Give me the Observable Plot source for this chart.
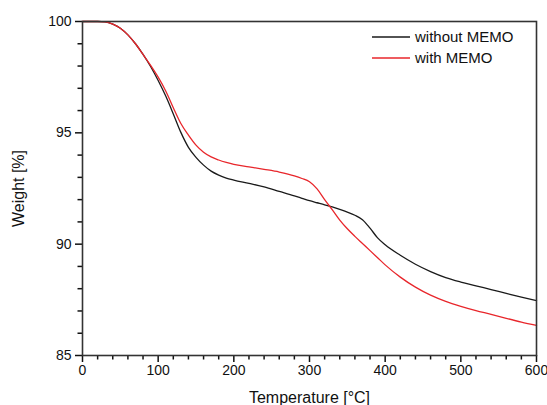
<!DOCTYPE html>
<html>
<head>
<meta charset="utf-8">
<script src="https://cdn.jsdelivr.net/npm/d3@7"></script>
<script src="https://cdn.jsdelivr.net/npm/@observablehq/plot@0.6"></script>
<style>
  html, body { margin: 0; padding: 0; background: #fff; }
  #wrap { position: relative; width: 547px; height: 405px; font-family: "Liberation Sans", Arial, sans-serif; }
  #legend { position: absolute; left: 372px; top: 26px; font-size: 15px; color: #111; }
  #legend .row { display: flex; align-items: center; height: 21px; }
  #legend svg { margin-right: 5px; }
</style>
</head>
<body>
<div id="wrap"></div>
<script>
const temperature = [0, 20, 30, 40, 50, 60, 70, 80, 90, 100, 110, 120, 130, 140, 150, 160, 170, 180, 190, 200,
  220, 240, 260, 280, 290, 300, 310, 320, 330, 340, 350, 360, 370, 380, 390, 400,
  420, 440, 460, 480, 500, 520, 540, 560, 580, 600];
const withoutMemo = [100, 100, 99.98, 99.88, 99.7, 99.4, 99.0, 98.52, 97.98, 97.35, 96.65, 95.85, 95.02, 94.35, 93.9, 93.55, 93.28, 93.1, 92.97, 92.88,
  92.73, 92.57, 92.37, 92.17, 92.06, 91.95, 91.86, 91.77, 91.67, 91.56, 91.44, 91.3, 91.1, 90.72, 90.28, 89.97,
  89.5, 89.1, 88.77, 88.5, 88.3, 88.13, 87.96, 87.79, 87.62, 87.46];
const withMemo = [100, 100, 99.98, 99.88, 99.7, 99.4, 99.0, 98.52, 98.03, 97.5, 96.88, 96.13, 95.42, 94.9, 94.45, 94.13, 93.92, 93.78, 93.67, 93.58,
  93.47, 93.36, 93.24, 93.07, 92.95, 92.8, 92.48, 92.0, 91.55, 91.08, 90.69, 90.35, 90.03, 89.71, 89.39, 89.07,
  88.52, 88.07, 87.71, 87.43, 87.21, 87.02, 86.85, 86.67, 86.5, 86.35];
const seriesNames = ["without MEMO", "with MEMO"];
const seriesColors = ["#1a1a1a", "#e8262b"];
const xMajorTicks = [0, 100, 200, 300, 400, 500, 600];
const xMinorTicks = d3.range(0, 601, 20).filter(v => v % 100 !== 0);
const yMajorTicks = [85, 90, 95, 100];
const yMinorTicks = d3.range(85, 100, 1).filter(v => v % 5 !== 0);
const xLabel = "Temperature [°C]";
const yLabel = "Weight [%]";
const xDomain = [0, 600];
const yDomain = [85, 100];

const data = [];
temperature.forEach((t, i) => {
  data.push({t, w: withoutMemo[i], s: seriesNames[0]});
  data.push({t, w: withMemo[i], s: seriesNames[1]});
});

const W = 547, H = 405, ML = 82, MR = 11, MT = 21, MB = 50;
const innerW = W - ML - MR, innerH = H - MT - MB;
// pixel length -> data units (for outward tick marks)
const pxX = (xDomain[1] - xDomain[0]) / innerW;
const pxY = (yDomain[1] - yDomain[0]) / innerH;
const tickStyle = {stroke: "#111", strokeWidth: 1.5, strokeOpacity: 1};

const chart = Plot.plot({
  width: W,
  height: H,
  marginLeft: ML,
  marginRight: MR,
  marginTop: MT,
  marginBottom: MB,
  style: {fontFamily: "'Liberation Sans', Arial, sans-serif", fontSize: "14px", color: "#111", background: "#fff"},
  x: {domain: xDomain},
  y: {domain: yDomain},
  color: {domain: seriesNames, range: seriesColors},
  marks: [
    Plot.axisX({ticks: xMajorTicks, tickSize: 0, tickPadding: 10, label: null, fontSize: 14}),
    Plot.axisY({ticks: yMajorTicks, tickSize: 0, tickPadding: 11, label: null, fontSize: 14}),
    Plot.ruleX(xMajorTicks, {x: d => d, y1: yDomain[0], y2: yDomain[0] - 7 * pxY, ...tickStyle}),
    Plot.ruleX(xMinorTicks, {x: d => d, y1: yDomain[0], y2: yDomain[0] - 4.5 * pxY, ...tickStyle}),
    Plot.ruleY(yMajorTicks, {y: d => d, x1: xDomain[0], x2: xDomain[0] - 7 * pxX, ...tickStyle}),
    Plot.ruleY(yMinorTicks, {y: d => d, x1: xDomain[0], x2: xDomain[0] - 4.5 * pxX, ...tickStyle}),
    Plot.line(data, {x: "t", y: "w", z: "s", stroke: "s", strokeWidth: 1.3, curve: "monotone-x"}),
    Plot.frame({stroke: "#333", strokeWidth: 1.6}),
    Plot.text([xLabel], {frameAnchor: "bottom", dy: 42, lineAnchor: "middle", fontSize: 16, fill: "#111"}),
    Plot.text([yLabel], {frameAnchor: "left", dx: -64, rotate: -90, textAnchor: "middle", lineAnchor: "middle", fontSize: 16, fill: "#111"})
  ]
});

const wrap = document.getElementById("wrap");
wrap.appendChild(chart);

const legend = document.createElement("div");
legend.id = "legend";
seriesNames.forEach((name, i) => {
  const row = document.createElement("div");
  row.className = "row";
  row.innerHTML = `<svg width="38" height="4"><line x1="0" x2="38" y1="2" y2="2" stroke="${seriesColors[i]}" stroke-width="1.3"/></svg><span>${name}</span>`;
  legend.appendChild(row);
});
wrap.appendChild(legend);
</script>
</body>
</html>
